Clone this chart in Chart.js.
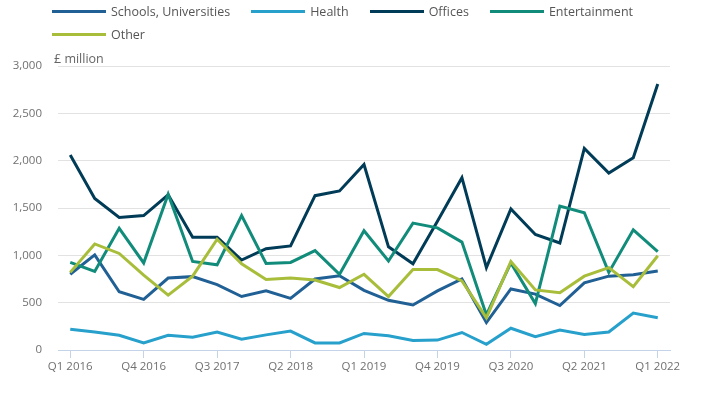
<!DOCTYPE html>
<html>
<head>
<meta charset="utf-8">
<script src="https://cdn.jsdelivr.net/npm/chart.js@4/dist/chart.umd.min.js"></script>
<style>
  html, body { margin: 0; padding: 0; background: #fff; }
  #wrap { position: relative; width: 710px; height: 394px; font-family: "Open Sans", sans-serif; }
  #legend { position: absolute; left: 52px; top: 0px; width: 650px; display: flex; flex-wrap: wrap; }
  .item { display: flex; align-items: center; height: 23px; margin-right: 21px; font-size: 12.5px; color: #555; }
  .swatch { width: 54px; height: 3px; margin-right: 5px; }
  #unit { position: absolute; left: 54px; top: 50px; font-size: 12.5px; color: #666; }
  canvas { position: absolute; left: 0; top: 0; }
</style>
</head>
<body>
<div id="wrap">
  <canvas id="c" width="710" height="394"></canvas>
  <div id="legend"></div>
  <div id="unit">£ million</div>
</div>
<script>
const quarters = ["Q1 2016","Q2 2016","Q3 2016","Q4 2016","Q1 2017","Q2 2017","Q3 2017","Q4 2017",
  "Q1 2018","Q2 2018","Q3 2018","Q4 2018","Q1 2019","Q2 2019","Q3 2019","Q4 2019",
  "Q1 2020","Q2 2020","Q3 2020","Q4 2020","Q1 2021","Q2 2021","Q3 2021","Q4 2021","Q1 2022"];
const seriesNames = ["Schools, Universities","Health","Offices","Entertainment","Other"];
const schools = [800,1005,615,535,760,775,690,565,625,545,750,785,630,525,475,625,750,290,645,590,470,710,780,795,835];
const health = [220,190,155,75,155,135,190,115,160,200,75,75,175,150,100,105,185,60,230,140,210,165,190,390,340];
const offices = [2060,1600,1400,1420,1640,1190,1190,950,1070,1100,1630,1680,1960,1090,910,1360,1820,870,1490,1220,1130,2130,1870,2030,2810];
const entertainment = [925,830,1285,920,1645,935,900,1420,915,925,1050,800,1260,940,1340,1290,1140,370,920,490,1520,1450,820,1270,1040];
const other = [820,1120,1020,790,580,780,1170,910,745,760,740,660,800,565,850,850,730,340,935,635,605,780,870,670,995];
const yTicks = [0,500,1000,1500,2000,2500,3000];

const colors = ["#206095","#27a0cc","#003c57","#118c7b","#a8bd3a"];
const values = [schools, health, offices, entertainment, other];

const datasets = values.map((d, i) => ({
  label: seriesNames[i],
  data: d,
  borderColor: colors[i],
  backgroundColor: colors[i],
  borderWidth: 3,
  pointRadius: 0,
  tension: 0,
  fill: false,
  order: values.length - i
}));

// HTML legend
const lg = document.getElementById('legend');
seriesNames.forEach((n, i) => {
  const it = document.createElement('div'); it.className = 'item';
  const sw = document.createElement('span'); sw.className = 'swatch'; sw.style.background = colors[i];
  const tx = document.createElement('span'); tx.textContent = n;
  it.appendChild(sw); it.appendChild(tx); lg.appendChild(it);
});

const axisColor = '#c5d3e8';
new Chart(document.getElementById('c'), {
  type: 'line',
  data: { labels: quarters, datasets },
  options: {
    responsive: false,
    animation: false,
    layout: { padding: { top: 66, right: 40, bottom: 0, left: 0 } },
    plugins: { legend: { display: false }, tooltip: { enabled: false } },
    scales: {
      y: {
        min: 0, max: 3000,
        afterBuildTicks: s => { s.ticks = yTicks.map(v => ({ value: v })); },
        afterFit: s => { s.width = 58; },
        ticks: {
          padding: 16,
          color: '#707070',
          font: { family: 'Open Sans', size: 11.5 },
          callback: v => Number(v).toLocaleString('en-US')
        },
        grid: { color: '#e2e2e2', drawTicks: false, lineWidth: 1 },
        border: { display: false }
      },
      x: {
        offset: true,
        afterFit: s => { s.height = 44; },
        ticks: {
          autoSkip: false, maxRotation: 0, padding: 2,
          color: '#707070',
          font: { family: 'Open Sans', size: 11.5 },
          callback: (v, i) => (i % 3 === 0 ? quarters[i] : '')
        },
        grid: {
          drawOnChartArea: false, drawTicks: true, tickLength: 8,
          color: ctx => (ctx.index % 3 === 0 ? axisColor : 'rgba(0,0,0,0)')
        },
        border: { display: true, color: axisColor, width: 1 }
      }
    }
  }
});
</script>
</body>
</html>
